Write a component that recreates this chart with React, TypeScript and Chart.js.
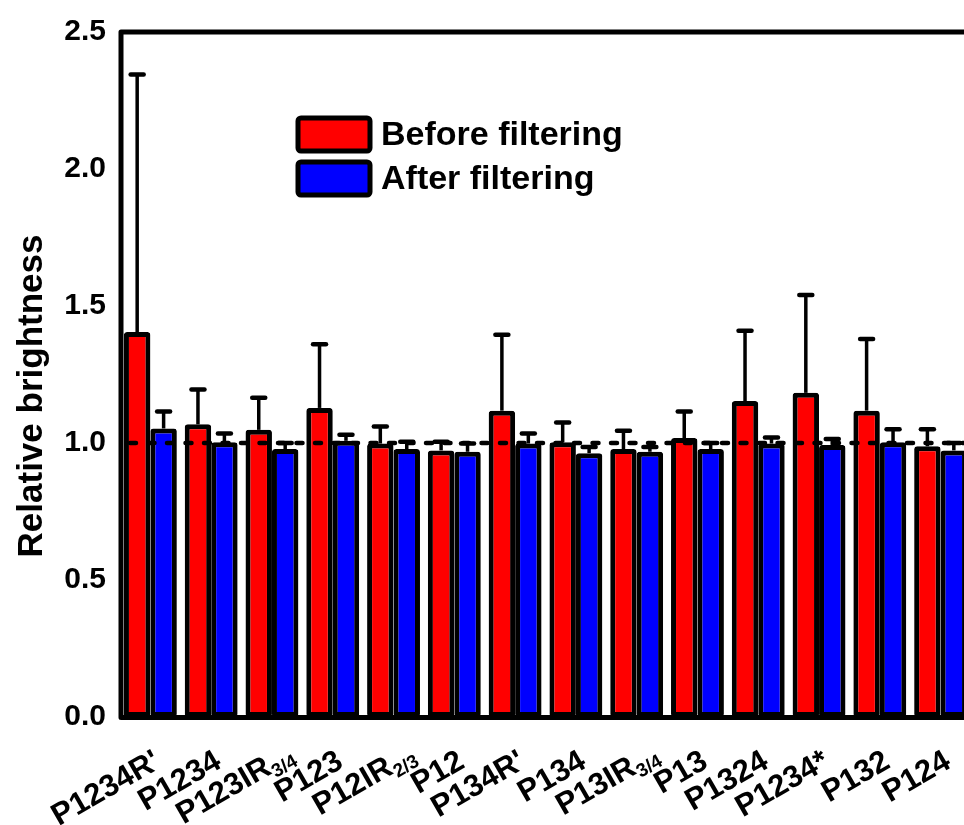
import React, { useEffect, useRef } from "react";
import { Chart, registerables } from "chart.js";

Chart.register(...registerables);

const labelMain = ["P1234R'", "P1234", "P123IR", "P123", "P12IR", "P12", "P134R'", "P134", "P13IR", "P13", "P1324", "P1234*", "P132", "P124"];
const labelSub = ["", "", "3/4", "", "2/3", "", "", "", "3/4", "", "", "", "", ""];
const categories = labelMain.map((m, i) => m + labelSub[i]);

const beforeValues = [1.405, 1.068, 1.048, 1.128, 0.998, 0.973, 1.118, 1.003, 0.978, 1.018, 1.153, 1.183, 1.118, 0.988];
const beforeErrors = [0.94, 0.127, 0.117, 0.232, 0.062, 0.032, 0.277, 0.072, 0.067, 0.097, 0.257, 0.357, 0.262, 0.062];
const afterValues = [1.053, 1.003, 0.978, 1.008, 0.978, 0.968, 0.998, 0.963, 0.968, 0.978, 0.998, 0.993, 1.003, 0.973];
const afterErrors = [0.062, 0.032, 0.022, 0.022, 0.027, 0.03, 0.037, 0.022, 0.017, 0.022, 0.022, 0.022, 0.047, 0.027];

const seriesNames = ["Before filtering", "After filtering"];
const seriesColors = ["#FF0000", "#0000FF"];
const errors = [beforeErrors, afterErrors];
const yTitle = "Relative brightness";
const refValue = 1.0;

const FONT = "'Liberation Sans', Arial, sans-serif";
const W = 1000;
const H = 825;

const overlay = {
  id: "overlay",
  afterDatasetsDraw(chart: any) {
    const { ctx, chartArea } = chart;
    const y = chart.scales.y;
    ctx.save();
    ctx.strokeStyle = "#000";
    // error bars
    chart.data.datasets.forEach((ds: any, di: number) => {
      const meta = chart.getDatasetMeta(di);
      meta.data.forEach((bar: any, i: number) => {
        const v = ds.data[i];
        const e = errors[di][i];
        const base = y.getPixelForValue(v);
        const top = y.getPixelForValue(v + e);
        ctx.lineCap = "butt";
        ctx.lineWidth = 3.5;
        ctx.beginPath();
        ctx.moveTo(bar.x, base);
        ctx.lineTo(bar.x, top);
        ctx.stroke();
        ctx.lineCap = "round";
        ctx.lineWidth = 4.5;
        ctx.beginPath();
        ctx.moveTo(bar.x - 6.5, top);
        ctx.lineTo(bar.x + 6.5, top);
        ctx.stroke();
      });
    });
    // reference dashed line
    const ry = y.getPixelForValue(refValue);
    ctx.lineWidth = 4.5;
    ctx.lineCap = "round";
    ctx.setLineDash([6, 12.5]);
    ctx.beginPath();
    ctx.moveTo(chartArea.left + 10, ry);
    ctx.lineTo(chartArea.right, ry);
    ctx.stroke();
    ctx.setLineDash([]);
    // frame
    ctx.lineWidth = 5;
    ctx.lineCap = "butt";
    ctx.lineJoin = "round";
    ctx.beginPath();
    ctx.moveTo(chartArea.left + 1, chartArea.bottom + 0.5);
    ctx.lineTo(chartArea.left + 1, chartArea.top);
    ctx.lineTo(chartArea.right, chartArea.top);
    ctx.lineTo(chartArea.right, chartArea.bottom + 0.5);
    ctx.closePath();
    ctx.stroke();
    ctx.restore();
  },
  afterDraw(chart: any) {
    const { ctx, chartArea } = chart;
    const x = chart.scales.x;
    ctx.save();
    ctx.fillStyle = "#000";
    // x labels
    const mainFont = `bold 31px ${FONT}`;
    const subFont = `bold 19px ${FONT}`;
    const ang = (-30 * Math.PI) / 180;
    labelMain.forEach((m, i) => {
      const cx = x.getPixelForValue(i);
      const sub = labelSub[i];
      ctx.font = subFont;
      const subW = sub ? ctx.measureText(sub).width : 0;
      const shift = sub ? 15 : 1;
      ctx.save();
      ctx.translate(cx + shift * Math.cos(ang), chartArea.bottom + 31 + shift * Math.sin(ang));
      ctx.rotate(ang);
      ctx.textBaseline = "alphabetic";
      ctx.textAlign = "right";
      ctx.font = mainFont;
      ctx.fillText(m, -subW, 22);
      if (sub) {
        ctx.font = subFont;
        ctx.textAlign = "left";
        ctx.fillText(sub, -subW, 28);
      }
      ctx.restore();
    });
    // y title
    ctx.save();
    ctx.translate(32.5, 396);
    ctx.rotate(-Math.PI / 2);
    ctx.font = `bold 35px ${FONT}`;
    ctx.textAlign = "center";
    ctx.textBaseline = "middle";
    ctx.fillText(yTitle, 0, 0);
    ctx.restore();
    // legend
    chart.data.datasets.forEach((ds: any, di: number) => {
      const bx = 298;
      const by = 118 + di * 44;
      ctx.beginPath();
      ctx.roundRect(bx, by, 72, 33, 3);
      ctx.fillStyle = ds.backgroundColor;
      ctx.fill();
      ctx.lineWidth = 5;
      ctx.strokeStyle = "#000";
      ctx.stroke();
      ctx.fillStyle = "#000";
      ctx.font = `bold 34px ${FONT}`;
      ctx.textAlign = "left";
      ctx.textBaseline = "middle";
      ctx.fillText(ds.label, 381, by + 18);
    });
    ctx.restore();
  },
};

export default function App() {
  const ref = useRef<HTMLCanvasElement | null>(null);
  useEffect(() => {
    if (!ref.current) return;
    Chart.defaults.font.family = FONT;
    const chart = new Chart(ref.current, {
      type: "bar",
      data: {
        labels: categories,
        datasets: [
          {
            label: seriesNames[0],
            data: beforeValues,
            backgroundColor: seriesColors[0],
            borderColor: "#000",
            borderWidth: 5,
            borderSkipped: false,
            borderRadius: 3,
            categoryPercentage: 0.87,
            barPercentage: 1.0,
          },
          {
            label: seriesNames[1],
            data: afterValues,
            backgroundColor: seriesColors[1],
            borderColor: "#000",
            borderWidth: 5,
            borderSkipped: false,
            borderRadius: 3,
            categoryPercentage: 0.87,
            barPercentage: 1.0,
          },
        ],
      },
      options: {
        responsive: false,
        animation: false,
        devicePixelRatio: 1,
        layout: { padding: { top: 29, right: W - 971, bottom: 0, left: 0 } },
        plugins: { legend: { display: false }, tooltip: { enabled: false } },
        scales: {
          x: {
            grid: { display: false },
            border: { display: false },
            ticks: { display: false },
            afterFit: (s: any) => {
              s.height = H - 717;
            },
          },
          y: {
            min: 0,
            max: 2.5,
            grid: { display: false, drawTicks: false },
            border: { display: false },
            ticks: {
              stepSize: 0.5,
              padding: 14,
              color: "#000",
              font: { size: 30, weight: "bold", family: FONT },
              callback: (v: any) => Number(v).toFixed(1),
            },
            afterFit: (s: any) => {
              s.width = 120;
            },
          },
        },
      },
      plugins: [overlay],
    });
    return () => chart.destroy();
  }, []);
  return (
    <div style={{ position: "absolute", left: 0, top: 0, width: 964, height: 825, overflow: "hidden", background: "#fff" }}>
      <canvas ref={ref} width={W} height={H} style={{ display: "block" }} />
    </div>
  );
}
